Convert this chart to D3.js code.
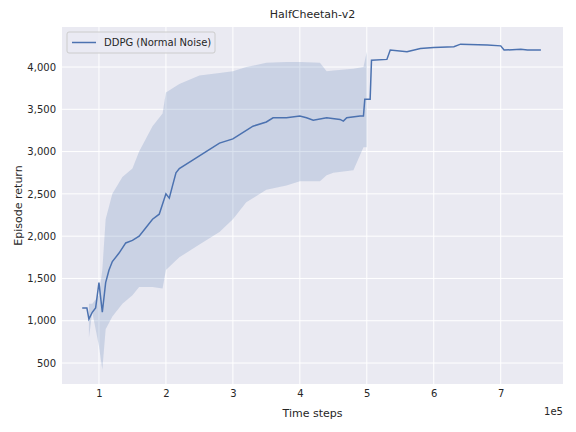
<!DOCTYPE html>
<html><head><meta charset="utf-8">
<script src="https://cdn.jsdelivr.net/npm/d3@7"></script>
<style>body{margin:0;background:#fff}text{font-family:"DejaVu Sans",sans-serif}</style>
</head><body><svg width="576" height="432"></svg>
<script>
// steps in 1e5 units
var meanX = [0.75,0.82,0.85,0.9,0.95,1.0,1.05,1.1,1.15,1.2,1.3,1.4,1.5,1.6,1.7,1.8,1.9,2.0,2.05,2.1,2.15,2.2,2.4,2.6,2.8,3.0,3.1,3.3,3.5,3.6,3.8,4.0,4.1,4.2,4.4,4.6,4.65,4.7,4.9,4.95,4.97,5.05,5.07,5.3,5.35,5.6,5.8,6.0,6.3,6.4,6.8,7.0,7.05,7.3,7.4,7.6];
var meanY = [1150,1150,1020,1100,1150,1450,1100,1450,1600,1700,1800,1920,1950,2000,2100,2200,2260,2500,2450,2600,2750,2800,2900,3000,3100,3150,3200,3300,3350,3400,3400,3420,3400,3370,3400,3380,3360,3400,3420,3420,3620,3620,4080,4090,4200,4180,4220,4230,4240,4270,4260,4250,4200,4210,4200,4200];
var bandX = [0.85,0.9,1.0,1.05,1.1,1.2,1.35,1.5,1.6,1.8,1.95,2.0,2.2,2.5,2.8,3.0,3.2,3.5,3.8,4.0,4.3,4.4,4.5,4.8,4.95,5.0];
var bandHi = [1200,1200,1300,1600,2200,2500,2700,2800,3000,3300,3450,3700,3800,3900,3930,3950,4000,4050,4060,4060,4050,3950,3960,3980,4000,4180];
var bandLo = [800,1100,700,420,900,1050,1200,1300,1400,1400,1380,1600,1750,1900,2050,2200,2400,2550,2600,2650,2650,2720,2750,2780,3050,3050];
var xTicks = [1,2,3,4,5,6,7];
var yTicks = [500,1000,1500,2000,2500,3000,3500,4000];

var svg = d3.select("svg");
var m = {left: 62, right: 13, top: 27, bottom: 48};
var w = 576 - m.left - m.right, h = 432 - m.top - m.bottom;
var x = d3.scaleLinear().domain([0.448, 7.93]).range([0, w]);
var y = d3.scaleLinear().domain([252, 4473]).range([h, 0]);
var g = svg.append("g").attr("transform", "translate(" + m.left + "," + m.top + ")");

g.append("rect").attr("width", w).attr("height", h).attr("fill", "#eaeaf2");
g.selectAll(".gx").data(xTicks).enter().append("line")
    .attr("x1", d => x(d)).attr("x2", d => x(d)).attr("y1", 0).attr("y2", h)
    .attr("stroke", "#fff").attr("stroke-width", 1);
g.selectAll(".gy").data(yTicks).enter().append("line")
    .attr("y1", d => y(d)).attr("y2", d => y(d)).attr("x1", 0).attr("x2", w)
    .attr("stroke", "#fff").attr("stroke-width", 1);

var band = bandX.map((v, i) => [v, bandLo[i], bandHi[i]]);
g.append("path").datum(band)
    .attr("d", d3.area().x(d => x(d[0])).y0(d => y(d[1])).y1(d => y(d[2])))
    .attr("fill", "#4c72b0").attr("fill-opacity", 0.2);

var line = meanX.map((v, i) => [v, meanY[i]]);
g.append("path").datum(line)
    .attr("d", d3.line().x(d => x(d[0])).y(d => y(d[1])))
    .attr("fill", "none").attr("stroke", "#4c72b0").attr("stroke-width", 1.5);

var xa = g.append("g").attr("transform", "translate(0," + h + ")")
    .call(d3.axisBottom(x).tickValues(xTicks).tickFormat(d3.format("d")).tickSize(0).tickPadding(6));
var ya = g.append("g").call(d3.axisLeft(y).tickValues(yTicks).tickSize(0).tickPadding(6));
[xa, ya].forEach(a => { a.select(".domain").remove(); a.selectAll("text").attr("font-size", 10).attr("fill", "#262626"); });

g.append("text").attr("x", w).attr("y", h + 31).attr("text-anchor", "end").attr("font-size", 10).attr("fill", "#262626").text("1e5");
g.append("text").attr("x", w / 2).attr("y", h + 33).attr("text-anchor", "middle").attr("font-size", 11).attr("fill", "#262626").text("Time steps");
g.append("text").attr("transform", "translate(-40," + (h / 2) + ") rotate(-90)").attr("text-anchor", "middle").attr("font-size", 11).attr("fill", "#262626").text("Episode return");
g.append("text").attr("x", w / 2).attr("y", -9).attr("text-anchor", "middle").attr("font-size", 11).attr("fill", "#262626").text("HalfCheetah-v2");

var lg = g.append("g").attr("transform", "translate(5,5)");
lg.append("rect").attr("width", 148).attr("height", 21).attr("rx", 2).attr("fill", "#eaeaf2").attr("fill-opacity", 0.8).attr("stroke", "#ccc");
lg.append("line").attr("x1", 5).attr("x2", 29).attr("y1", 10.5).attr("y2", 10.5).attr("stroke", "#4c72b0").attr("stroke-width", 1.5);
lg.append("text").attr("x", 37).attr("y", 14).attr("font-size", 10).attr("fill", "#262626").text("DDPG (Normal Noise)");
</script></body></html>
